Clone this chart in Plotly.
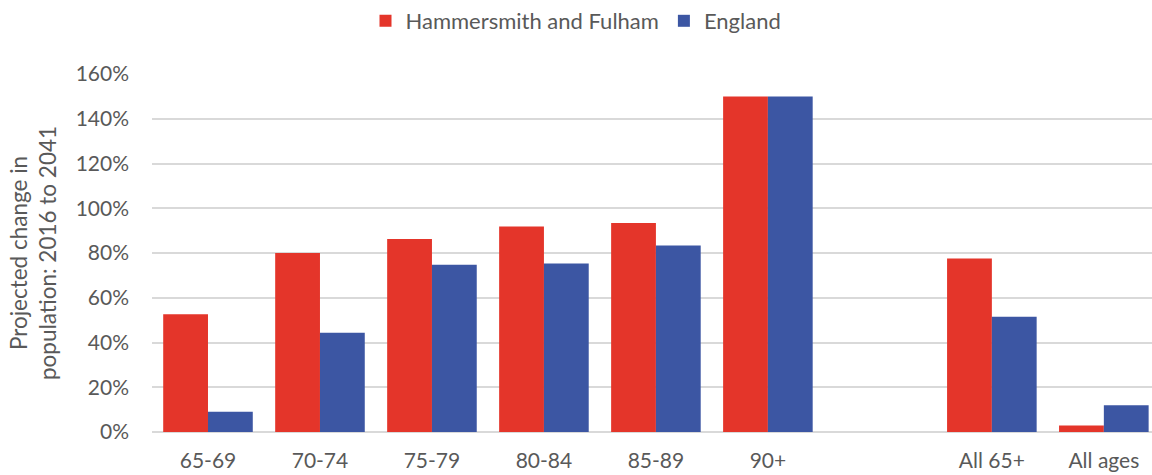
import plotly.graph_objects as go

# Age bands (blank slot separates the single-year bands from the totals)
categories = ["65-69", "70-74", "75-79", "80-84", "85-89", "90+", "", "All 65+", "All ages"]
hammersmith_fulham = [52.6, 80.0, 86.3, 91.8, 93.4, 150.0, None, 77.5, 2.9]
england = [9.0, 44.4, 74.7, 75.3, 83.3, 150.0, None, 51.5, 11.9]
y_ticks = [0, 20, 40, 60, 80, 100, 120, 140, 160]
y_tick_labels = [f"{v}%" for v in y_ticks]

positions = list(range(len(categories)))

RED = "#E4352A"
BLUE = "#3C56A3"
TEXT = "#595959"
FONT = "Lato"

fig = go.Figure()
fig.add_trace(go.Bar(name="Hammersmith and Fulham", x=positions, y=hammersmith_fulham,
                     marker=dict(color=RED, line=dict(width=0))))
fig.add_trace(go.Bar(name="England", x=positions, y=england,
                     marker=dict(color=BLUE, line=dict(width=0))))

fig.update_layout(
    width=1152, height=475,
    margin=dict(l=152, r=0, t=73.5, b=42.5),
    barmode="group", bargap=0.2, bargroupgap=0,
    plot_bgcolor="white", paper_bgcolor="white",
    font=dict(family=FONT, color=TEXT, size=21),
    legend=dict(orientation="h", x=0.5, xanchor="center", xref="container",
                y=1.0, yanchor="top", yref="container",
                font=dict(size=22, color=TEXT),
                itemwidth=30, traceorder="normal"),
    showlegend=True,
)

fig.update_xaxes(
    tickmode="array", tickvals=positions, ticktext=categories,
    range=[-0.5, 8.43], showgrid=False, zeroline=False,
    showline=False, ticks="", tickfont=dict(size=21, color=TEXT),
    ticklabelstandoff=14,
)
fig.update_yaxes(
    range=[0, 160], tickmode="array", tickvals=y_ticks, ticktext=y_tick_labels,
    showgrid=True, gridcolor="#D9D9D9", gridwidth=1.5,
    zeroline=True, zerolinecolor="#D9D9D9", zerolinewidth=1.5,
    showline=False, ticks="", tickfont=dict(size=21, color=TEXT),
    ticklabelstandoff=22,
    title=dict(text="Projected change in<br>population: 2016 to 2041",
               font=dict(size=22.5, color=TEXT), standoff=12),
)

fig.write_html("out.html")
